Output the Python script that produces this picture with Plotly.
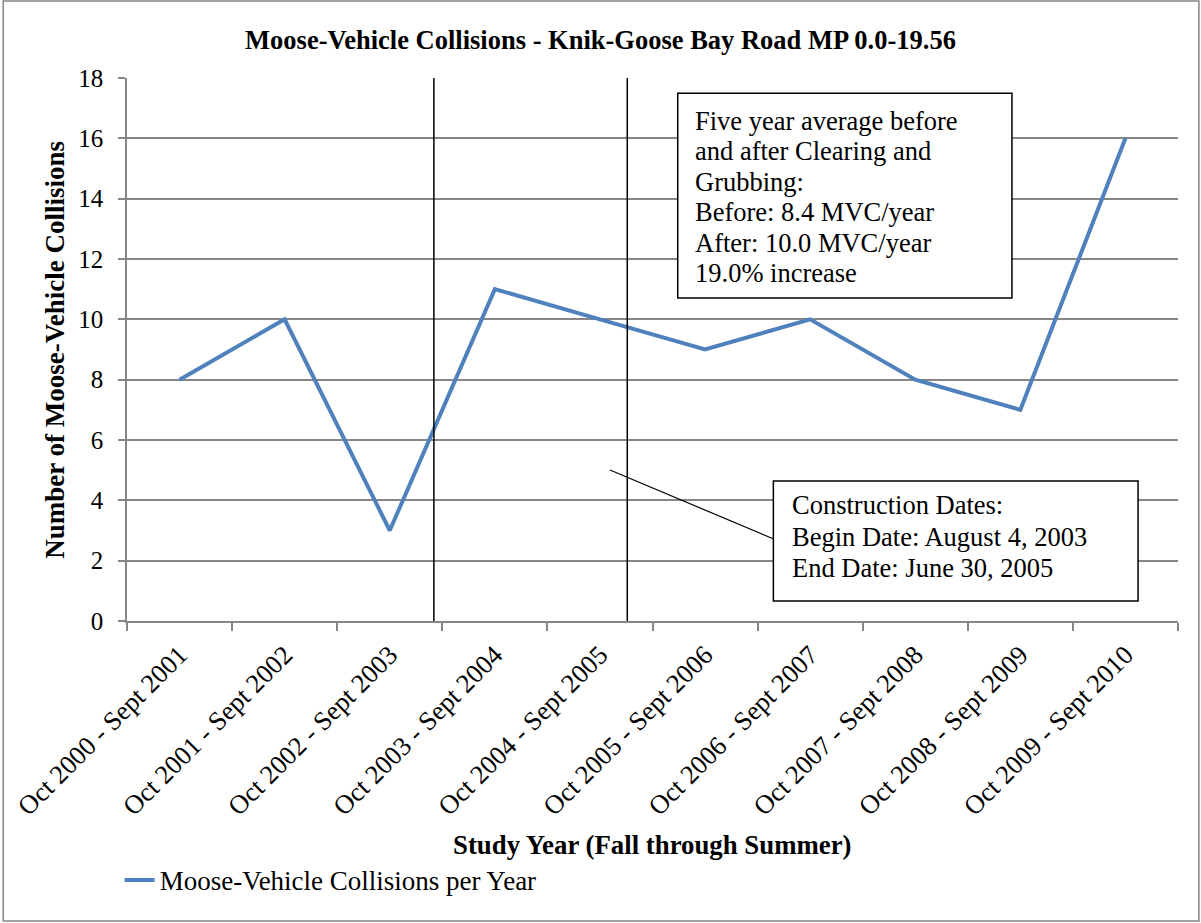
import plotly.graph_objects as go

study_years = ['Oct 2000 - Sept 2001', 'Oct 2001 - Sept 2002', 'Oct 2002 - Sept 2003',
               'Oct 2003 - Sept 2004', 'Oct 2004 - Sept 2005', 'Oct 2005 - Sept 2006',
               'Oct 2006 - Sept 2007', 'Oct 2007 - Sept 2008', 'Oct 2008 - Sept 2009',
               'Oct 2009 - Sept 2010']
collisions = [8, 10, 3, 11, 10, 9, 10, 8, 7, 16]

# construction begin / end, as positions along the category axis
construction_marks = [2.42, 4.26]

average_text = ['Five year average before', 'and after Clearing and', 'Grubbing:',
                'Before: 8.4 MVC/year', 'After: 10.0 MVC/year', '19.0% increase']
construction_text = ['Construction Dates:', 'Begin Date: August 4, 2003',
                     'End Date: June 30, 2005']

font = 'Liberation Serif'
grey = '#868686'

fig = go.Figure()
fig.add_trace(
    go.Scatter(
        x=study_years,
        y=collisions,
        name='Moose-Vehicle Collisions per Year',
        mode='lines',
        line=dict(width=4, color='#4F81BD'),
    ))

for xm in construction_marks:
    fig.add_shape(type='line', xref='x', yref='paper', x0=xm, x1=xm, y0=0, y1=1,
                  line=dict(color='black', width=1.5))

# text boxes
fig.add_shape(type='rect', xref='paper', yref='paper', x0=0.524, x1=0.842, y0=0.595, y1=0.972,
              fillcolor='white', line=dict(color='black', width=1.5), layer='above')
fig.add_shape(type='rect', xref='paper', yref='paper', x0=0.615, x1=0.962, y0=0.037, y1=0.258,
              fillcolor='white', line=dict(color='black', width=1.5), layer='above')
fig.add_shape(type='line', xref='paper', yref='paper', x0=0.4596, x1=0.6154, y0=0.278, y1=0.151,
              line=dict(color='black', width=1.2), layer='above')
# frame round the whole chart
fig.add_shape(type='rect', xref='paper', yref='paper', x0=-0.1178, x1=1.0199, y0=-0.5525, y1=1.1418,
              line=dict(color=grey, width=1.5), layer='above')

for i, t in enumerate(average_text):
    fig.add_annotation(text=t, xref='paper', yref='paper', x=0.539, y=0.921 - i * 0.056,
                       xanchor='left', yanchor='middle', showarrow=False,
                       font=dict(family=font, size=26.5, color='black'))
for i, t in enumerate(construction_text):
    fig.add_annotation(text=t, xref='paper', yref='paper', x=0.631, y=0.2136 - i * 0.058,
                       xanchor='left', yanchor='middle', showarrow=False,
                       font=dict(family=font, size=26.5, color='black'))

fig.add_annotation(text='<b>Study Year (Fall through Summer)</b>', xref='paper', yref='paper',
                   x=0.5, y=-0.413, xanchor='center', yanchor='middle', showarrow=False,
                   font=dict(family=font, size=26.8, color='black'))
fig.add_annotation(text='<b>Number of Moose-Vehicle Collisions</b>', xref='paper', yref='paper',
                   x=-0.0693, y=0.5, xanchor='center', yanchor='middle', showarrow=False,
                   textangle=-90, font=dict(family=font, size=27, color='black'))

fig.update_layout(
    width=1201, height=923,
    margin=dict(l=125, r=23, t=78, b=302),
    paper_bgcolor='white', plot_bgcolor='white',
    font=dict(family=font, color='black'),
    title=dict(text='<b>Moose-Vehicle Collisions - Knik-Goose Bay Road MP 0.0-19.56</b>',
               x=0.5, xref='container', y=0.957, yref='container', yanchor='middle',
               font=dict(family=font, size=26.5, color='black')),
    showlegend=True,
    legend=dict(orientation='h', x=-0.007, y=-0.4326, xanchor='left', yanchor='top',
                font=dict(family=font, size=27, color='black'), bgcolor='rgba(0,0,0,0)'),
)

fig.update_xaxes(type='category', tickson='boundaries', ticks='outside', ticklen=8,
                 tickcolor=grey, tickwidth=1.5, showline=True, linecolor=grey, linewidth=1.5,
                 showgrid=False, tickangle=-45, tickfont=dict(family=font, size=26.5),
                 ticklabelstandoff=6, range=[-0.5, 9.5])
fig.update_yaxes(range=[0, 18], dtick=2, ticks='outside', ticklen=7, tickcolor=grey,
                 tickwidth=1.5, showline=True, linecolor=grey, linewidth=1.5,
                 showgrid=True, gridcolor=grey, gridwidth=1.5, zeroline=False,
                 tickfont=dict(family=font, size=25), ticklabelstandoff=10)

fig.write_html("out.html", config={'displayModeBar': False},
               post_script="document.body.style.margin='0';")
